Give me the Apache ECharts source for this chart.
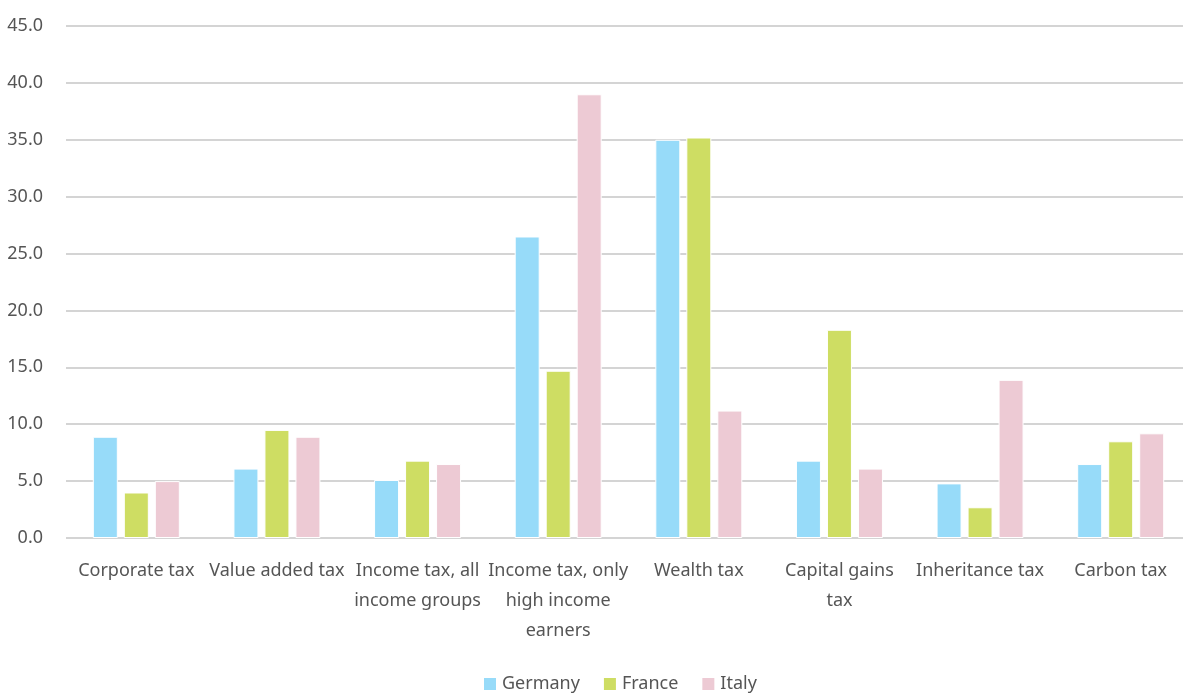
<!DOCTYPE html>
<html><head><meta charset="utf-8">
<script src="https://cdn.jsdelivr.net/npm/echarts@6/dist/echarts.min.js"></script>
<style>html,body{margin:0;padding:0;background:#fff}#c{width:1183px;height:696px}</style>
</head><body><div id="c"></div>
<script>
const categories = ["Corporate tax","Value added tax","Income tax, all\nincome groups","Income tax, only\nhigh income\nearners","Wealth tax","Capital gains\ntax","Inheritance tax","Carbon tax"];
const germany = [8.9, 6.1, 5.1, 26.5, 35.0, 6.8, 4.8, 6.5];
const france  = [4.0, 9.5, 6.8, 14.7, 35.2, 18.3, 2.7, 8.5];
const italy   = [5.0, 8.9, 6.5, 39.0, 11.2, 6.1, 13.9, 9.2];
const yTicks = {min: 0, max: 45, interval: 5};

const font = "Noto Sans";
const txt = "#555555";
const chart = echarts.init(document.getElementById('c'));
function s(name, data, color){
  return {name, type:'bar', data, barWidth:25, barGap:'24%',
    itemStyle:{color, borderColor:'#ffffff', borderWidth:1}};
}
chart.setOption({
  animation:false,
  textStyle:{fontFamily:font},
  grid:{left:66, width:1125, top:26, bottom:158, containLabel:false, outerBoundsMode:'none'},
  legend:{bottom:-2, left:477, itemWidth:14, itemHeight:14, itemGap:22, icon:'rect',
    textStyle:{fontFamily:font, fontSize:18, color:txt}},
  xAxis:{type:'category', data:categories,
    axisLine:{show:false}, axisTick:{show:false},
    axisLabel:{interval:0, fontFamily:font, fontSize:18, color:txt, lineHeight:30, margin:18}},
  yAxis:{type:'value', min:yTicks.min, max:yTicks.max, interval:yTicks.interval,
    axisLine:{show:false}, axisTick:{show:false},
    axisLabel:{fontFamily:font, fontSize:18, color:txt, margin:23, formatter:v=>v.toFixed(1)},
    splitLine:{lineStyle:{color:'#d4d4d4', width:2}}},
  series:[s('Germany', germany, '#97dbf9'), s('France', france, '#cedd63'), s('Italy', italy, '#edcad4')]
});
</script></body></html>
